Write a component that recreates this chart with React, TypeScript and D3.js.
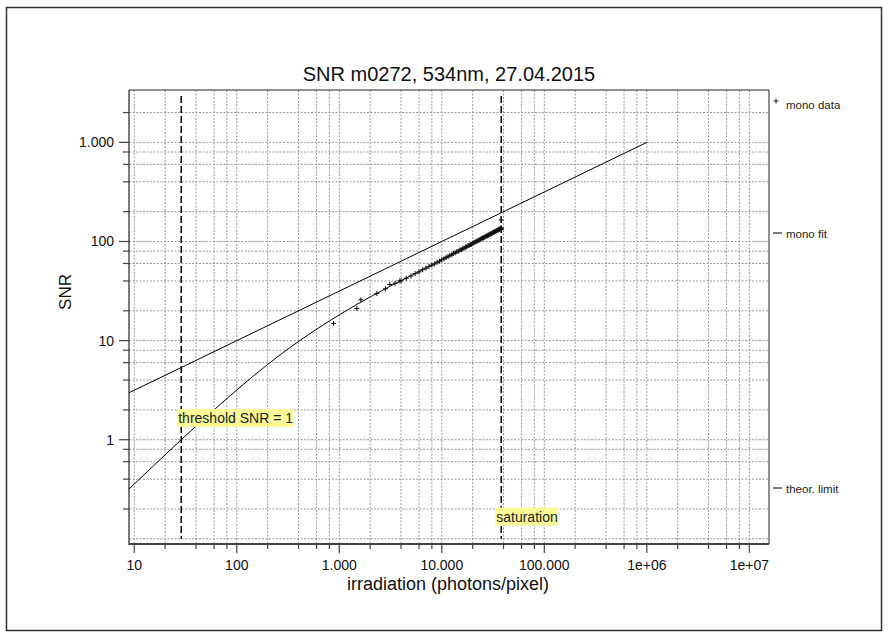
import React from "react";
import * as d3 from "d3";

const W = 889;
const H = 637;
const FONT = "'Liberation Sans', Arial, sans-serif";

// axis domains
const xDomain = [8.88, 1.556e7];
const yDomain = [0.0887, 3377];

const xTickValues = [10, 100, 1000, 10000, 100000, 1e6, 1e7];
const xTickLabels = ["10", "100", "1.000", "10.000", "100.000", "1e+06", "1e+07"];
const yTickValues = [1, 10, 100, 1000];
const yTickLabels = ["1", "10", "100", "1.000"];
const minorMultipliers = [2, 4, 6, 8];

// measured data (mono data)
const dataX = [
  879, 1483, 1622, 2324, 2820, 3110, 3500, 3890, 4000, 4500, 5000, 5500, 6000, 6500,
  7000, 7500, 8000, 8500, 9000, 9500, 10000, 10500, 11000, 11500, 12000, 12500, 13000,
  13500, 14000, 14500, 15000, 15500, 16000, 16500, 17000, 17500, 18000, 18500, 19000,
  19500, 20000, 20500, 21000, 21500, 22000, 22500, 23000, 23500, 24000, 24500, 25000,
  25500, 26000, 26500, 27000, 27500, 28000, 28500, 29000, 29500, 30000, 30500, 31000,
  31500, 32000, 32500, 33000, 33500, 34000, 34500, 35000, 35500, 36000, 36500, 37000,
  37500, 38000, 37800, 38000, 38000,
];
const dataY = [
  14.9, 21.1, 25.8, 29.8, 33.3, 36.8, 37.9, 40.1, 40.0, 42.6, 44.8, 47.4, 49.4, 51.9,
  53.7, 56.2, 57.8, 59.4, 61.9, 63.2, 65.6, 66.8, 69.2, 70.3, 72.4, 73.5, 75.8,
  76.7, 78.9, 79.8, 82.0, 82.7, 84.9, 85.6, 87.8, 88.4, 90.6, 91.2, 93.3,
  93.8, 95.9, 96.5, 98.6, 99.0, 101.1, 101.6, 103.6, 104.0, 106.0, 106.4, 108.4,
  108.8, 110.8, 111.1, 113.1, 113.4, 115.4, 115.7, 117.6, 117.9, 119.8, 120.1, 122.0,
  122.2, 124.1, 124.4, 126.2, 126.5, 128.3, 128.6, 130.4, 130.6, 132.4, 132.6, 134.4,
  134.6, 136.0, 138.0, 132.0, 165.0,
];

// mono fit curve
const fitX = [8.88, 15, 20, 28.7, 50, 100, 200, 500, 1000, 2000, 5000, 10000, 20000, 38000];
const fitY = [0.318, 0.532, 0.705, 1.0, 1.69, 3.18, 5.75, 11.5, 18.2, 27.6, 45.2, 65.0, 95.0, 134];

// theoretical limit
const theoX = [8.88, 10, 100, 1000, 10000, 100000, 1e6];
const theoY = [2.98, 3.16, 10, 31.6, 100, 316, 1000];

// vertical markers
const thresholdX = 28.7;
const saturationX = 38000;
const vlineYRange = [0.1, 2930];
const thresholdLabel = "threshold SNR = 1";
const saturationLabel = "saturation";
const thresholdLabelY = 1.66;
const saturationLabelY = 0.168;

const legendLabels = ["mono data", "mono fit", "theor. limit"];
const legendSymbols = ["+", "—", "—"];

const title = "SNR m0272, 534nm, 27.04.2015";
const xTitle = "irradiation (photons/pixel)";
const yTitle = "SNR";

export default function App() {
  const left = 129, right = 769, top = 90, bottom = 544;
  const x = d3.scaleLog().domain(xDomain).range([left, right]);
  const y = d3.scaleLog().domain(yDomain).range([bottom, top]);
  const legendY = [105, 234, 489];

  const xGrid: number[] = [];
  for (let e = 0; e <= 7; e++) {
    [1, ...minorMultipliers].forEach((m) => {
      const v = m * Math.pow(10, e);
      if (v >= xDomain[0] && v <= xDomain[1]) xGrid.push(v);
    });
  }
  const yGrid: number[] = [];
  for (let e = -1; e <= 3; e++) {
    [1, ...minorMultipliers].forEach((m) => {
      const v = m * Math.pow(10, e);
      if (v >= yDomain[0] && v <= yDomain[1]) yGrid.push(v);
    });
  }
  const xMinor = xGrid.filter((v) => !xTickValues.includes(v));
  const yMinor = yGrid.filter((v) => !yTickValues.includes(v) && v > 0.15);

  const line = d3
    .line<[number, number]>()
    .x((d) => x(d[0]))
    .y((d) => y(d[1]))
    .curve(d3.curveMonotoneX);

  const fitPts = fitX.map((v, i) => [v, fitY[i]] as [number, number]);
  const theoPts = theoX.map((v, i) => [v, theoY[i]] as [number, number]);

  const tx = x(thresholdX);
  const sx = x(saturationX);

  return (
    <svg
      width={W}
      height={H}
      style={{ position: "absolute", left: 0, top: 0, background: "#fff" }}
      fontFamily={FONT}
    >
      <rect x={0} y={0} width={W} height={H} fill="#fff" />
      <rect x={6.5} y={7.5} width={875} height={623} fill="none" stroke="#333" strokeWidth={1.5} />
      <defs>
        <clipPath id="plotclip">
          <rect x={left} y={top} width={right - left} height={bottom - top} />
        </clipPath>
      </defs>

      {/* grid */}
      <g stroke="#999" strokeWidth={1} strokeDasharray="2,1.5">
        {xGrid.map((v) => (
          <line key={"gx" + v} x1={x(v)} x2={x(v)} y1={top} y2={bottom} />
        ))}
        {yGrid.map((v) => (
          <line key={"gy" + v} x1={left} x2={right} y1={y(v)} y2={y(v)} />
        ))}
      </g>

      {/* frame */}
      <line x1={left} x2={right} y1={top} y2={top} stroke="#222" strokeWidth={1} />
      <line x1={right} x2={right} y1={top} y2={bottom} stroke="#222" strokeWidth={1} />
      <line x1={left} x2={left} y1={top} y2={bottom + 1} stroke="#222" strokeWidth={1.2} />
      <line x1={left} x2={right} y1={bottom} y2={bottom} stroke="#444" strokeWidth={2} />

      {/* ticks */}
      <g stroke="#444" strokeWidth={1.2}>
        {xTickValues.map((v) => (
          <line key={"xt" + v} x1={x(v)} x2={x(v)} y1={bottom} y2={bottom + 9} />
        ))}
        {xMinor.map((v) => (
          <line key={"xm" + v} x1={x(v)} x2={x(v)} y1={bottom} y2={bottom + 5} />
        ))}
        {yTickValues.map((v) => (
          <line key={"yt" + v} x1={left - 10} x2={left} y1={y(v)} y2={y(v)} />
        ))}
        {yMinor.map((v) => (
          <line key={"ym" + v} x1={left - 6} x2={left} y1={y(v)} y2={y(v)} />
        ))}
      </g>
      <g fontSize={14} fill="#111">
        {xTickValues.map((v, i) => (
          <text key={"xl" + v} x={x(v)} y={570} textAnchor="middle">
            {xTickLabels[i]}
          </text>
        ))}
        {yTickValues.map((v, i) => (
          <text key={"yl" + v} x={114} y={y(v) + 5} textAnchor="end">
            {yTickLabels[i]}
          </text>
        ))}
      </g>

      {/* curves */}
      <g clipPath="url(#plotclip)" fill="none" stroke="#000" strokeWidth={1}>
        <path d={line(theoPts) || ""} />
        <path d={line(fitPts) || ""} />
      </g>

      {/* vertical markers */}
      <g stroke="#000" strokeWidth={1.5} strokeDasharray="7,3">
        <line x1={tx} x2={tx} y1={y(vlineYRange[1])} y2={y(vlineYRange[0])} />
        <line x1={sx} x2={sx} y1={y(vlineYRange[1])} y2={y(vlineYRange[0])} />
      </g>

      {/* data points */}
      <g stroke="#111" strokeWidth={1}>
        {dataX.map((v, i) => {
          const cx = x(v);
          const cy = y(dataY[i]);
          return (
            <g key={"p" + i}>
              <line x1={cx - 2.5} x2={cx + 2.5} y1={cy} y2={cy} />
              <line x1={cx} x2={cx} y1={cy - 2.5} y2={cy + 2.5} />
            </g>
          );
        })}
      </g>

      {/* marker labels */}
      <g fontSize={14}>
        <rect x={tx - 4} y={y(thresholdLabelY) - 9} width={116} height={18} fill="#fafa96" />
        <text x={tx - 3} y={y(thresholdLabelY) + 5} fill="#222">{thresholdLabel}</text>
        <rect x={sx - 6} y={y(saturationLabelY) - 9} width={63} height={18} fill="#fafa96" />
        <text x={sx - 5} y={y(saturationLabelY) + 5} fill="#222">{saturationLabel}</text>
      </g>

      {/* legend */}
      <g fontSize={11.5} fill="#222">
        {legendLabels.map((label, i) => {
          const ly = legendY[i];
          return (
            <g key={label}>
              {legendSymbols[i] === "+" ? (
                <g stroke="#222" strokeWidth={1}>
                  <line x1={773.5} x2={778.5} y1={ly - 4} y2={ly - 4} />
                  <line x1={776} x2={776} y1={ly - 6.5} y2={ly - 1.5} />
                </g>
              ) : (
                <line x1={773} x2={782} y1={ly - 1} y2={ly - 1} stroke="#222" strokeWidth={1.2} />
              )}
              <text x={786} y={ly + 3.5}>{label}</text>
            </g>
          );
        })}
      </g>

      {/* titles */}
      <text x={449} y={81} textAnchor="middle" fontSize={20} fill="#111">
        {title}
      </text>
      <text x={448} y={590} textAnchor="middle" fontSize={18} fill="#111">
        {xTitle}
      </text>
      <text
        transform={`translate(71, 292) rotate(-90)`}
        textAnchor="middle"
        fontSize={17}
        fill="#111"
      >
        {yTitle}
      </text>
    </svg>
  );
}
